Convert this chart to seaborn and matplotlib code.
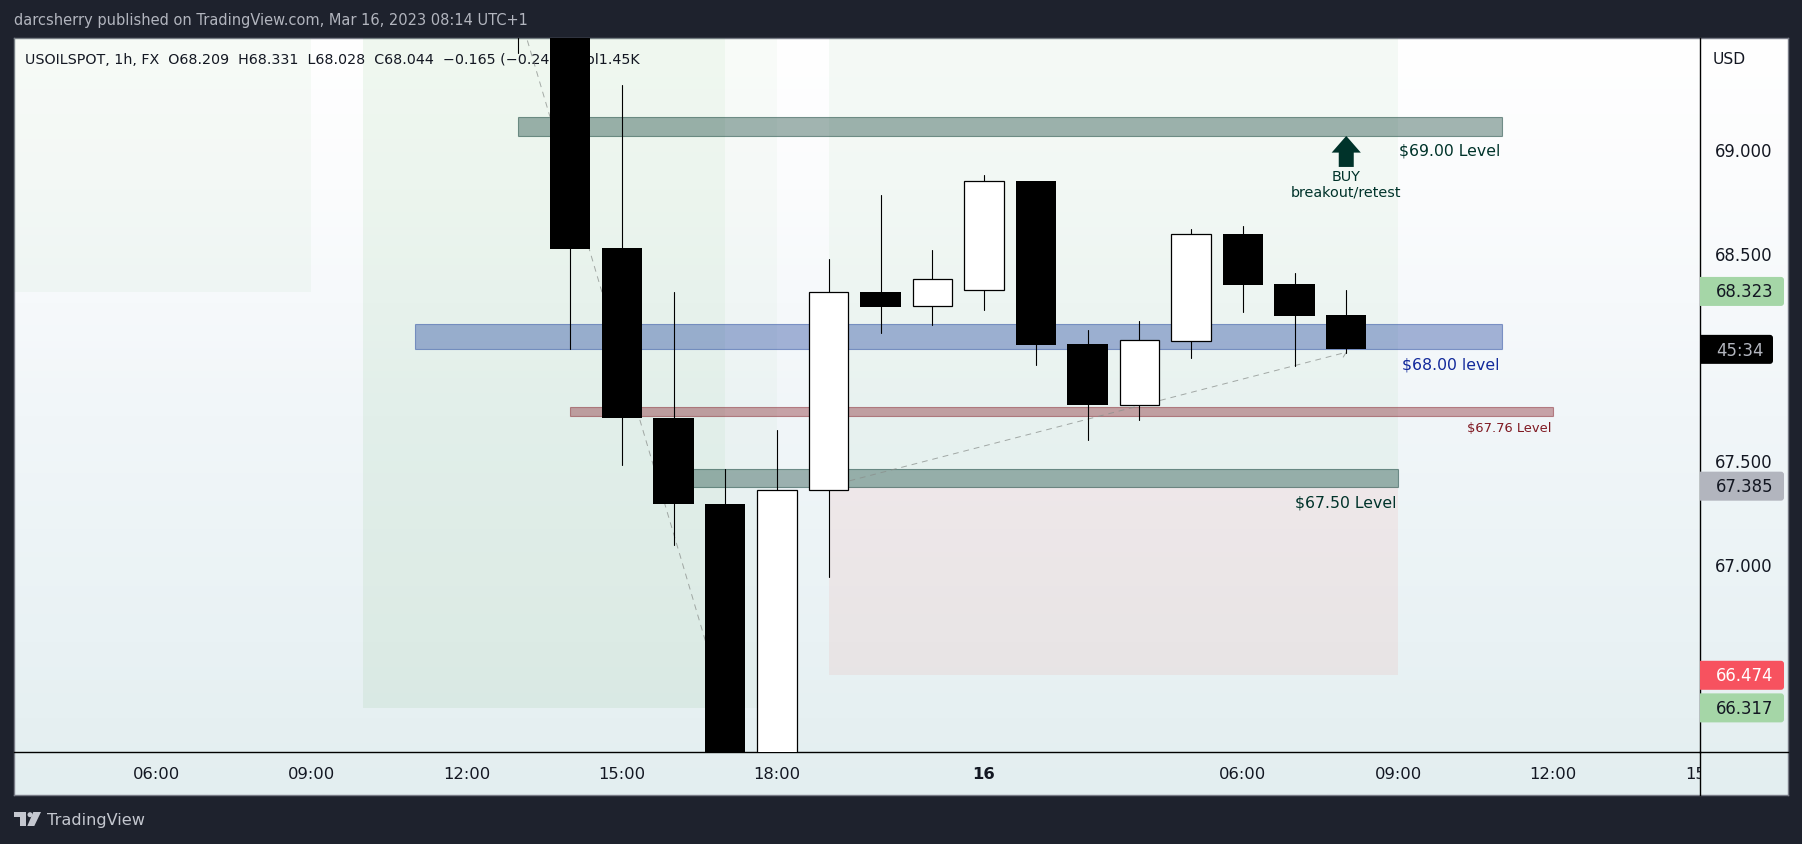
# USOILSPOT 1h chart, candles with levels and position boxes
import numpy as np
import pandas as pd
import matplotlib
matplotlib.use('Agg')
import matplotlib.pyplot as plt
import seaborn as sns
from matplotlib.patches import Rectangle, Polygon, Circle, FancyBboxPatch

# ── DATA ─────────────────────────────────────────────────────────────────────
bars   = [7, 8, 9, 10, 11, 12, 13, 14, 15, 16, 17, 18, 19, 20, 21, 22, 23]
opens  = [69.90, 69.85, 68.530, 67.715, 67.301, 65.95, 67.367, 68.320, 68.251, 68.329, 68.855, 68.070, 67.777, 68.086, 68.600, 68.359, 68.209]
highs  = [69.95, 69.90, 69.317, 68.320, 67.468, 67.656, 68.479, 68.788, 68.523, 68.884, 68.855, 68.137, 68.181, 68.624, 68.638, 68.412, 68.331]
lows   = [69.47, 68.046, 67.488, 67.103, 65.90, 65.90, 66.949, 68.124, 68.163, 68.235, 67.970, 67.609, 67.705, 68.000, 68.224, 67.965, 68.028]
closes = [69.80, 68.529, 67.715, 67.301, 66.00, 67.367, 68.319, 68.250, 68.381, 68.854, 68.066, 67.777, 68.088, 68.598, 68.356, 68.206, 68.044]

tick_pos    = [0, 3, 6, 9, 12, 16, 21, 24, 27, 30]
tick_labels = ["06:00", "09:00", "12:00", "15:00", "18:00", "16", "06:00", "09:00", "12:00", "15:00"]
price_ticks = [69.0, 68.5, 67.5, 67.0]

tag_prices = [68.323, 67.385, 66.474, 66.317]
tag_colors = ["#a5d6a7", "#b2b5be", "#f7525f", "#a5d6a7"]
tag_text   = ["#131722", "#131722", "#ffffff", "#131722"]

# x0, x1, price low, price high, colour, alpha
level_zones = [
    (7, 26, 69.073, 69.162, "#00332a", 0.36),
    (5, 26, 68.044, 68.165, "#1a3f9b", 0.38),
    (8, 27, 67.724, 67.765, "#801922", 0.38),
    (10, 24, 67.380, 67.466, "#00332a", 0.35),
]
level_labels = [
    ("$69.00 Level", 25.97, 69.004, "#00332a", 11.3),
    ("$68.00 level", 25.97, 67.973, "#12299b", 11.3),
    ("$67.76 Level", 26.97, 67.670, "#801922", 9.35),
    ("$67.50 Level", 23.97, 67.309, "#00332a", 11.3),
]
tool_boxes = [
    (-3, 3, 68.32, 70.0, "#4caf50", 0.045),
    (4, 12, 66.317, 70.0, "#4caf50", 0.03),
    (4, 11, 66.317, 70.0, "#4caf50", 0.05),
    (13, 24, 67.38, 70.0, "#4caf50", 0.05),
    (13, 24, 66.474, 67.38, "#f44336", 0.07),
]
zigzag_x = [7, 11, np.nan, 13, 23, 22.9]
zigzag_y = [69.68, 66.317, np.nan, 67.385, 68.03, 67.99]

legend_line = "USOILSPOT, 1h, FX  O68.209  H68.331  L68.028  C68.044  \u22120.165 (\u22120.24%)  Vol1.45K"

# ── LAYOUT (pixel boxes) ─────────────────────────────────────────────────────
W, H = 1802, 845

def pix_axes(fig, l, t, r, b, **kw):
    return fig.add_axes([l / W, 1 - b / H, (r - l) / W, (b - t) / H], **kw)

sns.set_theme(style="white")
plt.rcParams['font.family'] = ['DejaVu Sans']

fig = plt.figure(figsize=(W / 100, H / 100), dpi=100, facecolor="#1e222d")

# gradient behind everything
bg = pix_axes(fig, 14, 38.5, 1788, 796)
grad = np.zeros((200, 2, 3))
stops_y = [0, 0.2, 0.5, 0.8, 1]
stops = np.array([[255, 255, 255], [251, 252, 253], [241, 246, 249], [233, 242, 244], [227, 238, 240]]) / 255
for c in range(3):
    grad[:, :, c] = np.interp(np.linspace(0, 1, 200), stops_y, stops[:, c])[:, None]
bg.imshow(grad, aspect="auto", extent=[0, 1, 0, 1], interpolation="bilinear")
bg.set_xticks([]); bg.set_yticks([])
for s in bg.spines.values():
    s.set_color("#787b86"); s.set_linewidth(1.0)

x_left = (14 - 156) / 51.75
x_right = (1700 - 156) / 51.75

ax = pix_axes(fig, 14, 39, 1700, 753)
ax.patch.set_alpha(0)
ax_price = pix_axes(fig, 1700, 39, 1788, 753, sharey=ax)
ax_price.patch.set_alpha(0)
ax_time = pix_axes(fig, 14, 753, 1700, 796)
ax_time.patch.set_alpha(0)

ax.set_xlim(x_left, x_right)
ax.set_ylim(66.1045, 69.5438)
ax_time.set_xlim(x_left, x_right)
ax_time.set_ylim(0, 1)
ax_price.set_xlim(0, 88)

# ── POSITION BOXES / LEVELS ──────────────────────────────────────────────────
for x0, x1, p0, p1, col, a in tool_boxes:
    ax.add_patch(Rectangle((x0, p0), x1 - x0, p1 - p0, facecolor=col, alpha=a, lw=0, zorder=1))

ax.text(-2.53, 69.445, legend_line, fontsize=10.25, color="#131722", va="center", zorder=2)

for x0, x1, p0, p1, col, a in level_zones:
    ax.add_patch(Rectangle((x0, p0), x1 - x0, p1 - p0, facecolor=matplotlib.colors.to_rgba(col, a),
                           edgecolor=matplotlib.colors.to_rgba(col, 0.45), lw=0.8, zorder=3))

for txt, x, p, col, fs in level_labels:
    ax.text(x, p, txt, color=col, fontsize=fs, ha="right", va="center", zorder=6)

ax.plot(zigzag_x, zigzag_y, color="#8a8f8c", lw=0.7, ls=(0, (6, 5)), alpha=0.75, zorder=4)

# ── CANDLES ──────────────────────────────────────────────────────────────────
df = pd.DataFrame({"bar": bars, "open": opens, "high": highs, "low": lows, "close": closes})
df["base"] = df[["open", "close"]].min(axis=1)
df["body"] = (df["close"] - df["open"]).abs()

wicks = df.melt(id_vars="bar", value_vars=["high", "low"], value_name="price")
sns.lineplot(data=wicks, x="bar", y="price", units="bar", estimator=None, sort=False,
             color="black", lw=0.8, ax=ax, legend=False, zorder=5)

down = df[df["close"] < df["open"]]
up = df[df["close"] >= df["open"]]
sns.barplot(data=down, x="bar", y="body", bottom=down["base"].values, native_scale=True, orient="x",
            color="black", saturation=1, width=0.78, errorbar=None, ax=ax, zorder=6,
            edgecolor="black", linewidth=0.0)
sns.barplot(data=up, x="bar", y="body", bottom=up["base"].values, native_scale=True, orient="x",
            color="white", saturation=1, width=0.76, errorbar=None, ax=ax, zorder=6,
            edgecolor="black", linewidth=0.9)

ax.set_xlim(x_left, x_right)
ax.set_ylim(66.1045, 69.5438)
ax.set_xlabel(""); ax.set_ylabel("")
ax.set_xticks([])
ax.tick_params(left=False, labelleft=False)
for name in ["top", "left"]:
    ax.spines[name].set_visible(False)
ax.spines["right"].set_color("black"); ax.spines["right"].set_linewidth(1.0)
ax.spines["bottom"].set_color("black"); ax.spines["bottom"].set_linewidth(1.0)

# BUY arrow and its text
ax.annotate("", xy=(23, 69.072), xytext=(0, -31), textcoords="offset pixels",
            arrowprops=dict(width=10.8, headwidth=21, headlength=12, shrink=0, fc="#00332a", ec="none"), zorder=6)
ax.text(23, 68.88, "BUY", color="#00332a", fontsize=10.4, ha="center", va="center", zorder=6)
ax.text(23, 68.803, "breakout/retest", color="#00332a", fontsize=10.4, ha="center", va="center", zorder=6)

# ── PRICE SCALE ──────────────────────────────────────────────────────────────
ax_price.set_xticks([])
ax_price.tick_params(left=False, labelleft=False)
for s in ax_price.spines.values():
    s.set_visible(False)
ax_price.spines["bottom"].set_visible(True)
ax_price.spines["bottom"].set_color("black"); ax_price.spines["bottom"].set_linewidth(1.0)

for p in price_ticks:
    ax_price.text(15, p, f"{p:.3f}", fontsize=11.9, color="#131722", va="center")
ax_price.text(13, 69.445, "USD", fontsize=11.2, color="#131722", va="center")

tag_h = 29 / 207.6

def price_tag(p, width, col):
    # runs past the left edge so only the right corners show rounded
    ax_price.add_patch(FancyBboxPatch((-6, p - tag_h / 2), width + 6, tag_h, facecolor=col, lw=0, zorder=3,
                                      boxstyle="round,pad=0,rounding_size=3", mutation_aspect=1 / 207.6))

for p, col, tc in zip(tag_prices, tag_colors, tag_text):
    price_tag(p, 84, col)
    ax_price.text(16, p, f"{p:.3f}", fontsize=11.9, color=tc, va="center", zorder=4)

price_tag(68.044, 73, "black")
ax_price.text(16, 68.04, "45:34", fontsize=11.9, color="#b2b5be", va="center", zorder=4)

# ── TIME SCALE ───────────────────────────────────────────────────────────────
ax_time.set_xticks([]); ax_time.set_yticks([])
for s in ax_time.spines.values():
    s.set_visible(False)
ax_time.spines["right"].set_visible(True)
ax_time.spines["right"].set_color("black"); ax_time.spines["right"].set_linewidth(1.0)
for x, lab in zip(tick_pos, tick_labels):
    ax_time.text(x, 0.5, lab, fontsize=11.8, color="#131722", ha="center", va="center", clip_on=True,
                 fontweight="bold" if lab == "16" else "normal")

# ── HEADER / FOOTER ──────────────────────────────────────────────────────────
top = pix_axes(fig, 0, 0, W, H)
top.patch.set_alpha(0)
top.set_xlim(0, W); top.set_ylim(H, 0)
top.axis("off")
top.text(14, 21, "darcsherry published on TradingView.com, Mar 16, 2023 08:14 UTC+1",
         fontsize=10.5, color="#b2b5be", va="center")
top.text(47, 821, "TradingView", fontsize=11.6, color="#c4c7cf", va="center")
top.add_patch(Polygon([(14, 813), (25.7, 813), (25.7, 827), (20, 827), (20, 818), (14, 818)], fc="#c4c7cf", lw=0))
top.add_patch(Circle((30, 815.7), 2.5, fc="#c4c7cf", lw=0))
top.add_patch(Polygon([(33.3, 813), (41, 813), (34.3, 827), (27.3, 827)], fc="#c4c7cf", lw=0))

fig.savefig("out.png", dpi=100, facecolor=fig.get_facecolor())
plt.close(fig)
